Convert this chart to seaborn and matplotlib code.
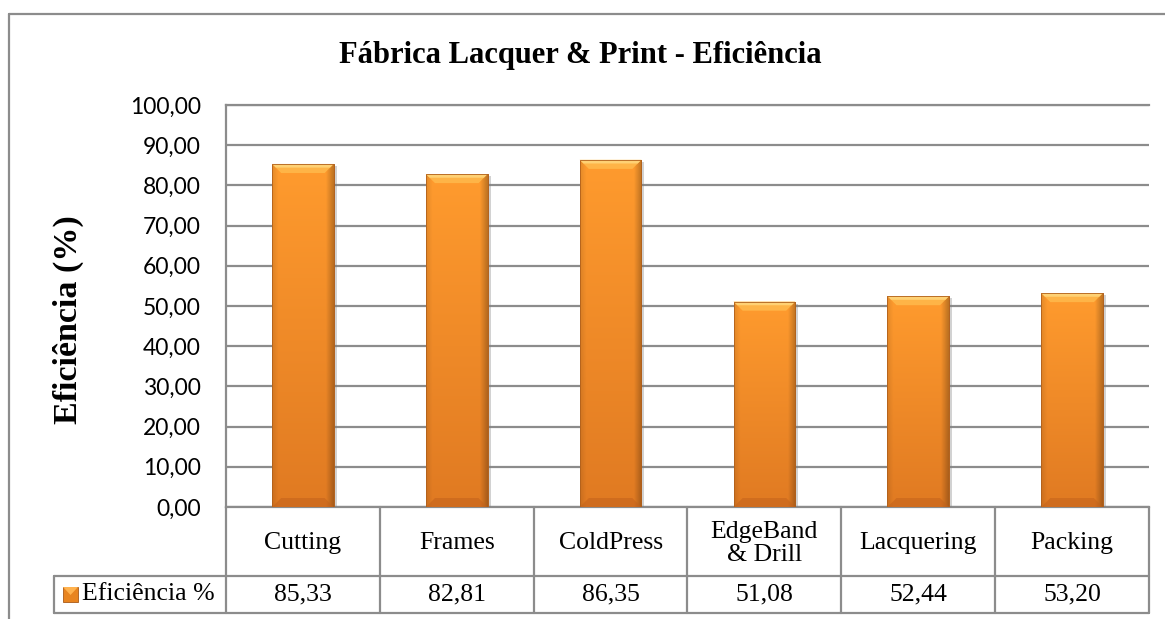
import numpy as np
import pandas as pd
import matplotlib
matplotlib.use("Agg")
import matplotlib.pyplot as plt
import seaborn as sns
from matplotlib.colors import to_rgb
from matplotlib.lines import Line2D
from matplotlib.patches import Rectangle, Polygon
from matplotlib.ticker import FuncFormatter, FixedLocator
from matplotlib.transforms import blended_transform_factory

# ---- data -------------------------------------------------------------
categories = ["Cutting", "Frames", "ColdPress", "EdgeBand\n& Drill", "Lacquering", "Packing"]
eficiencia = [85.33, 82.81, 86.35, 51.08, 52.44, 53.20]
series_name = "Eficiência %"
chart_title = "Fábrica Lacquer & Print - Eficiência"
y_title = "Eficiência (%)"
y_ticks = [0, 10, 20, 30, 40, 50, 60, 70, 80, 90, 100]


def pt_br(v):
    return f"{v:.2f}".replace(".", ",")


# ---- style ------------------------------------------------------------
sns.set_theme(style="white")
plt.rcParams["font.family"] = ["Liberation Serif", "DejaVu Serif"]

LINE = "#8C8C8C"
W, H = 1165, 619
fig = plt.figure(figsize=(W / 100, H / 100), dpi=100)


def fx(px):
    return px / W


def fy(py):
    return 1 - py / H


ax = fig.add_axes([fx(226), fy(507), fx(1149) - fx(226), fy(105) - fy(507)])

df = pd.DataFrame({"categoria": categories, "valor": eficiencia})
sns.barplot(data=df, x="categoria", y="valor", color="#F58D25", width=0.4,
            saturation=1, edgecolor="#B0601C", linewidth=0.5, ax=ax, zorder=3)

ax.set_xlim(-0.5, len(categories) - 0.5)
ax.set_ylim(0, 100)
ax.set_xlabel("")
ax.set_ylabel("")
ax.set_xticks([])
ax.yaxis.set_major_locator(FixedLocator(y_ticks))
ax.yaxis.set_major_formatter(FuncFormatter(lambda v, p: pt_br(v)))
ax.tick_params(axis="y", length=0, pad=18, labelsize=16.5)
for lab in ax.get_yticklabels():
    lab.set_family(["Lato", "DejaVu Sans"])
    lab.set_color("black")
ax.yaxis.grid(True, color=LINE, lw=1.6)
ax.set_axisbelow(True)
for side in ["left", "bottom", "top"]:
    ax.spines[side].set_visible(True)
    ax.spines[side].set_color(LINE)
    ax.spines[side].set_linewidth(1.6)
ax.spines["right"].set_visible(False)

# ---- bar shading: gradient body, bevels and a soft shadow ---------------
fig.canvas.draw()
px_x = ax.bbox.width / len(categories)
px_y = ax.bbox.height / 100.0
bev_x = 9 / px_x
bev_y = 9 / px_y

top_c = np.array(to_rgb("#FF9B2E"))
bot_c = np.array(to_rgb("#E07A22"))
rows = np.linspace(0, 1, 200)[:, None, None]
body = top_c * (1 - rows) + bot_c * rows
cols = np.linspace(-1, 1, 80)[None, :, None]
left_dark = 0.10 * np.clip((-cols - 0.8) / 0.2, 0, 1)
right_dark = 0.25 * np.clip((cols - 0.75) / 0.25, 0, 1)
grad = np.clip(body * (1 - left_dark - right_dark), 0, 1)

for bar in list(ax.patches):
    x0, w, h = bar.get_x(), bar.get_width(), bar.get_height()
    shadow = Rectangle((x0 + 3 / px_x, 0), w, h - 2 / px_y, facecolor="#7F7F7F",
                       alpha=0.35, edgecolor="none", zorder=2.9)
    ax.add_patch(shadow)
    im = ax.imshow(grad, extent=[x0, x0 + w, 0, h], aspect="auto",
                   zorder=3.2, interpolation="bilinear")
    im.set_clip_path(bar)
    top = Polygon([(x0, h), (x0 + w, h), (x0 + w - bev_x, h - bev_y),
                   (x0 + bev_x, h - bev_y)], closed=True,
                  facecolor="#FFB84A", edgecolor="none", alpha=0.9, zorder=3.4)
    ax.add_patch(top)
    rim = Polygon([(x0, h), (x0 + w, h), (x0 + w - bev_x / 2.5, h - bev_y / 2.5),
                   (x0 + bev_x / 2.5, h - bev_y / 2.5)], closed=True,
                  facecolor="#FFD57A", edgecolor="none", alpha=0.9, zorder=3.45)
    ax.add_patch(rim)
    bottom = Polygon([(x0, 0), (x0 + w, 0), (x0 + w - bev_x, bev_y),
                      (x0 + bev_x, bev_y)], closed=True,
                     facecolor="#C2621C", edgecolor="none", alpha=0.55, zorder=3.4)
    ax.add_patch(bottom)
    outline = Rectangle((x0, 0), w, h, facecolor="none", edgecolor="#B0601C",
                        lw=0.6, zorder=3.6)
    ax.add_patch(outline)

ax.set_xlim(-0.5, len(categories) - 0.5)
ax.set_ylim(0, 100)

# ---- data table beneath the axis ---------------------------------------
tr = blended_transform_factory(ax.transData, ax.transAxes)
ax_h = ax.bbox.height
row1 = -(576 - 507) / ax_h
row2 = -(613 - 507) / ax_h
leg_left = (54 - 226) / ax.bbox.width


def tline(xs, ys, transform):
    ax.add_line(Line2D(xs, ys, color=LINE, lw=1.6, transform=transform,
                       clip_on=False, zorder=5))


n = len(categories)
for i in range(n + 1):
    tline([i - 0.5, i - 0.5], [0, row2], tr)
tline([leg_left, 1], [row1, row1], ax.transAxes)
tline([leg_left, 1], [row2, row2], ax.transAxes)
tline([leg_left, leg_left], [row1, row2], ax.transAxes)

for i, (cat, val) in enumerate(zip(categories, eficiencia)):
    ax.text(i, row1 / 2 - 0.004, cat, transform=tr, ha="center", va="center",
            fontsize=18.5, color="black", linespacing=1.05, clip_on=False)
    ax.text(i, (row1 + row2) / 2, pt_br(val), transform=tr, ha="center",
            va="center", fontsize=18.5, color="black", clip_on=False)

# legend key inside the table
key = Rectangle((fx(63), fy(602)), fx(78) - fx(63), fy(587) - fy(602),
                transform=fig.transFigure, facecolor="#E8841F",
                edgecolor="#A85A18", lw=0.6, zorder=6)
fig.add_artist(key)
fig.add_artist(Polygon([(fx(63), fy(587)), (fx(78), fy(587)),
                        (fx(70.5), fy(595))], closed=True,
                       transform=fig.transFigure, facecolor="#FFB24E",
                       edgecolor="none", zorder=6.5))
fig.text(fx(82), fy(594.5), series_name, ha="left", va="center",
         fontsize=18.5, color="black")

# ---- titles and chart frame --------------------------------------------
fig.text(0.498, fy(55), chart_title, ha="center", va="center",
         fontsize=22, fontweight="bold", color="black")
fig.text(fx(68), fy(320), y_title, ha="center", va="center", rotation=90,
         fontsize=24.5, fontweight="bold", color="black")

fig.add_artist(Line2D([fx(9), 1], [fy(14), fy(14)], color=LINE, lw=1.6,
                      transform=fig.transFigure))
fig.add_artist(Line2D([fx(9), fx(9)], [fy(14), 0], color=LINE, lw=1.6,
                      transform=fig.transFigure))

fig.savefig("out.png", dpi=100, facecolor="white")
